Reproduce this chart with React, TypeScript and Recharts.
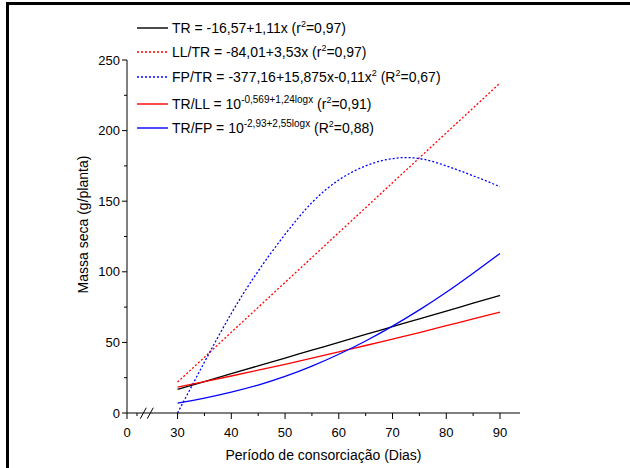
import React from 'react';
import { LineChart, Line, XAxis, YAxis, ReferenceLine } from 'recharts';

// dias de consorciação (x) and massa seca (g/planta)
const days = [30, 35, 40, 45, 50, 55, 60, 65, 70, 75, 80, 85, 90];
const trValues = [16.7, 22.2, 27.8, 33.4, 38.9, 44.5, 50.0, 55.6, 61.1, 66.7, 72.2, 77.8, 83.3];
const llTrValues = [21.9, 39.5, 57.2, 74.8, 92.5, 110.1, 127.8, 145.4, 163.1, 180.7, 198.4, 216.0, 233.7];
const fpTrValues = [0, 36, 70.5, 100.5, 126.5, 149, 165, 175, 180.2, 180.2, 175, 168, 160.3];
const trLlValues = [18.3, 22.2, 26.2, 30.3, 34.5, 38.8, 43.3, 47.8, 52.4, 57.0, 61.8, 66.6, 71.5];
const trFpValues = [7, 10.6, 14.8, 19.8, 25.9, 33.2, 41.6, 51, 61.5, 73, 85.5, 99, 113];

// broken x axis: "0" sits just left of the break, real scale starts at 30
const xZero = 20.59;
const xMajorTicks = [xZero, 30, 40, 50, 60, 70, 80, 90];
const xMinorTicks = [22.45, 35, 45, 55, 65, 75, 85];
const yMajorTicks = [0, 50, 100, 150, 200, 250];
const yMinorTicks = [25, 75, 125, 175, 225];

const FONT = '"Liberation Sans", Arial, sans-serif';

const data = days.map((d, i) => ({
  day: d,
  tr: trValues[i],
  llTr: llTrValues[i],
  fpTr: fpTrValues[i],
  trLl: trLlValues[i],
  trFp: trFpValues[i],
}));

const Sup: React.FC<{ children: React.ReactNode; size?: number }> = ({ children, size = 9 }) => (
  <span style={{ fontSize: size, position: 'relative', top: -6, lineHeight: 0 }}>{children}</span>
);

const series = [
  { dataKey: 'tr', color: '#000000', dash: undefined, label: <>TR = -16,57+1,11x (r<Sup>2</Sup>=0,97)</> },
  { dataKey: 'llTr', color: '#ff0000', dash: '2 2', label: <>LL/TR = -84,01+3,53x (r<Sup>2</Sup>=0,97)</> },
  {
    dataKey: 'fpTr',
    color: '#0000ff',
    dash: '2 2',
    label: <>FP/TR = -377,16+15,875x-0,11x<Sup>2</Sup> (R<Sup>2</Sup>=0,67)</>,
  },
  {
    dataKey: 'trLl',
    color: '#ff0000',
    dash: undefined,
    label: <>TR/LL = 10<Sup size={10}>-0,569+1,24logx</Sup> (r<Sup>2</Sup>=0,91)</>,
  },
  {
    dataKey: 'trFp',
    color: '#0000ff',
    dash: undefined,
    label: <>TR/FP = 10<Sup size={10}>-2,93+2,55logx</Sup> (R<Sup>2</Sup>=0,88)</>,
  },
];

const legendRowCenters = [28, 52, 77, 104, 128];

const XTick = (props: any) => {
  const { x, y, payload } = props;
  const v = payload.value;
  const major = xMajorTicks.includes(v);
  return (
    <g>
      <line x1={x} y1={y} x2={x} y2={y + (major ? 6 : 3)} stroke="#000" strokeWidth={1} />
      {major && (
        <text x={x} y={y + 24} textAnchor="middle" fontSize={13} fontFamily={FONT} fill="#000">
          {v === xZero ? '0' : String(v)}
        </text>
      )}
    </g>
  );
};

const YTick = (props: any) => {
  const { x, y, payload } = props;
  const v = payload.value;
  const major = yMajorTicks.includes(v);
  return (
    <g>
      <line x1={x} y1={y} x2={x - (major ? 5 : 3)} y2={y} stroke="#000" strokeWidth={1} />
      {major && (
        <text x={x - 7} y={y + 4.5} textAnchor="end" fontSize={13} fontFamily={FONT} fill="#000">
          {String(v)}
        </text>
      )}
    </g>
  );
};

const YTitle = ({ viewBox }: any) => {
  const cx = viewBox.x + 83;
  const cy = viewBox.y + viewBox.height / 2 - 12;
  return (
    <text
      x={cx}
      y={cy}
      transform={`rotate(-90, ${cx}, ${cy})`}
      textAnchor="middle"
      dominantBaseline="central"
      fontSize={14}
      fontFamily={FONT}
      fill="#000"
    >
      Massa seca (g/planta)
    </text>
  );
};

const XTitle = ({ viewBox }: any) => (
  <text
    x={viewBox.x + viewBox.width / 2}
    y={viewBox.y + 47}
    textAnchor="middle"
    fontSize={14}
    fontFamily={FONT}
    fill="#000"
  >
    Período de consorciação (Dias)
  </text>
);

const ChartLegend: React.FC = () => (
  <div style={{ position: 'absolute', left: 137, top: 0, fontFamily: FONT, fontSize: 14, color: '#000' }}>
    {series.map((s, i) => (
      <div
        key={s.dataKey}
        style={{
          position: 'absolute',
          top: legendRowCenters[i] - 10,
          height: 20,
          display: 'flex',
          alignItems: 'center',
          whiteSpace: 'nowrap',
        }}
      >
        <svg width={31} height={4} style={{ display: 'block' }}>
          <line x1={0} y1={2} x2={31} y2={2} stroke={s.color} strokeWidth={1.4} strokeDasharray={s.dash} />
        </svg>
        <span style={{ marginLeft: 4 }}>{s.label}</span>
      </div>
    ))}
  </div>
);

export default function App() {
  return (
    <div style={{ position: 'absolute', left: 0, top: 0, width: 630, height: 468, background: '#fff', overflow: 'hidden' }}>
      <div
        style={{
          position: 'absolute',
          left: 6,
          top: 2,
          width: 630,
          height: 470,
          borderTop: '3px solid #000',
          borderLeft: '3px solid #000',
        }}
      />
      <div style={{ position: 'absolute', left: 0, top: 0 }}>
        <LineChart width={630} height={468} data={data} margin={{ top: 60, right: 110, bottom: 0, left: 0 }}>
          <XAxis
            dataKey="day"
            type="number"
            domain={[xZero, 93.72]}
            ticks={[...xMajorTicks, ...xMinorTicks].sort((a, b) => a - b)}
            interval={0}
            height={55}
            tickSize={0}
            tickMargin={0}
            tickLine={false}
            tick={<XTick />}
            axisLine={{ stroke: '#000', strokeWidth: 1 }}
            allowDataOverflow
            label={<XTitle />}
          />
          <YAxis
            type="number"
            domain={[0, 250]}
            ticks={[...yMajorTicks, ...yMinorTicks].sort((a, b) => a - b)}
            interval={0}
            width={127}
            tickSize={0}
            tickMargin={0}
            tickLine={false}
            tick={<YTick />}
            axisLine={{ stroke: '#000', strokeWidth: 1 }}
            allowDataOverflow
            label={<YTitle />}
          />
          {series.map((s) => (
            <Line
              key={s.dataKey}
              type="natural"
              dataKey={s.dataKey}
              stroke={s.color}
              strokeWidth={1.3}
              strokeDasharray={s.dash}
              dot={false}
              activeDot={false}
              isAnimationActive={false}
            />
          ))}
          {/* axis break marks */}
          <ReferenceLine
            segment={[{ x: 23.06, y: -4.03 }, { x: 24.18, y: 3.75 }]}
            stroke="#000"
            strokeWidth={1}
            ifOverflow="visible"
          />
          <ReferenceLine
            segment={[{ x: 24.36, y: -4.03 }, { x: 25.48, y: 3.75 }]}
            stroke="#000"
            strokeWidth={1}
            ifOverflow="visible"
          />
        </LineChart>
      </div>
      <ChartLegend />
    </div>
  );
}
